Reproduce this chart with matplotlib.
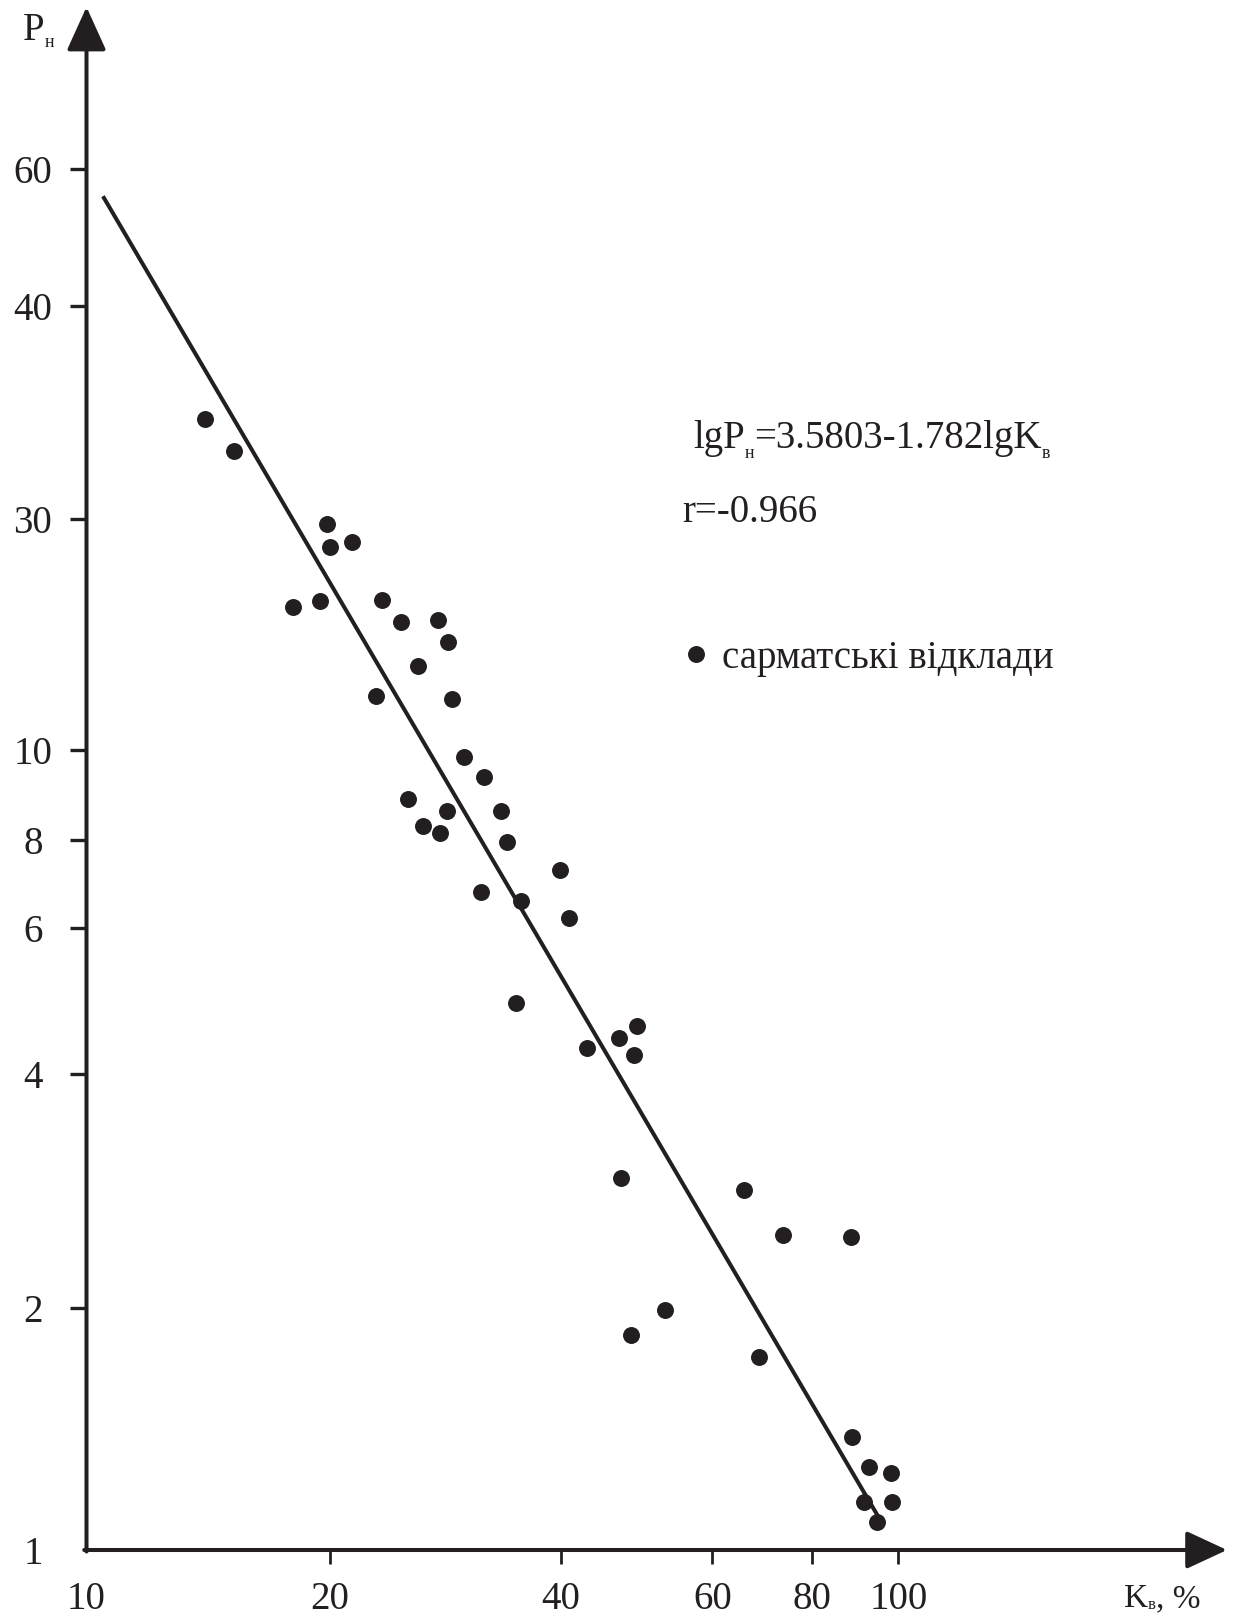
import numpy as np
import matplotlib
matplotlib.use('Agg')
import matplotlib.pyplot as plt

# Kв, % and Pн of the sarmatian samples
k_values = [14.02, 15.23, 19.87, 20.03, 21.37, 18.04, 19.46, 23.39, 24.76, 27.67, 28.51,
            26.10, 22.99, 28.88, 29.96, 31.79, 25.33, 28.48, 33.45, 26.50, 27.86, 34.02,
            31.50, 35.57, 34.98, 39.96, 40.96, 42.92, 46.76, 48.61, 49.02, 47.02, 48.34,
            52.92, 65.72, 68.70, 73.55, 88.50, 88.75, 92.75, 98.05, 91.49, 98.30, 94.70]
p_values = [34.34, 32.89, 29.29, 26.29, 26.93, 19.71, 20.34, 20.41, 18.36, 18.56, 16.72,
            14.91, 12.95, 12.73, 9.82, 9.35, 8.86, 8.61, 8.60, 8.29, 8.14, 7.96,
            6.76, 6.57, 4.87, 7.27, 6.20, 4.30, 4.43, 4.22, 4.58, 2.94, 1.851,
            1.987, 2.834, 1.740, 2.485, 2.470, 1.381, 1.267, 1.248, 1.148, 1.148, 1.084]

# ends of the regression line as drawn
k_line = [10.48, 95.5]
p_line = [55.4, 1.088]

x_ticks = [10, 20, 40, 60, 80, 100]
y_ticks = [1, 2, 4, 6, 8, 10, 30, 40, 60]
legend_label = 'сарматські відклади'

# the axes are hand drawn: log-like but the tick spacing is uneven,
# so the tick positions (image pixels) define the scale
x_tick_px = [86.5, 329.5, 560.6, 712.3, 812.3, 898.3]
y_tick_px = [1550, 1308, 1074.3, 928.3, 840.3, 750, 519, 306, 169.3]

W, H = 1237, 1618
ink = '#231f20'
plt.rcParams['font.family'] = ['Liberation Serif', 'DejaVu Serif']
plt.rcParams['text.color'] = ink


def piecewise(v, xp, fp):
    v = np.asarray(v, dtype=float)
    i = np.clip(np.searchsorted(xp, v) - 1, 0, len(xp) - 2)
    return fp[i] + (v - xp[i]) * (fp[i + 1] - fp[i]) / (xp[i + 1] - xp[i])


def uneven_log(ticks, pos):
    lt = np.log10(ticks)
    pos = np.asarray(pos, dtype=float)

    def fwd(v):
        return piecewise(np.log10(np.clip(v, 1e-6, None)), lt, pos)

    def inv(p):
        return 10 ** piecewise(p, pos, lt)
    return fwd, inv


fig = plt.figure(figsize=(W / 100, H / 100), dpi=100)
x0, x1 = 86.5, 1227   # y axis line, tip of x arrow
y0, y1 = 1550, 7      # x axis line, tip of y arrow
ax = fig.add_axes([x0 / W, 1 - y0 / H, (x1 - x0) / W, (y0 - y1) / H])

fx = uneven_log(x_ticks, x_tick_px)
fy = uneven_log(y_ticks, [-p for p in y_tick_px])
ax.set_xscale('function', functions=fx)
ax.set_yscale('function', functions=fy)
ax.set_xlim(10, fx[1](x1))
ax.set_ylim(1, fy[1](-y1))

for s in ax.spines.values():
    s.set_visible(False)

# axes as arrows
ax.annotate('', xy=(1, 0), xytext=(-0.002, 0), xycoords='axes fraction',
            arrowprops=dict(arrowstyle='-|>,head_length=1.4,head_width=0.65', color=ink,
                            lw=2.9, shrinkA=0, shrinkB=0, mutation_scale=18))
ax.annotate('', xy=(0, 1), xytext=(0, -0.001), xycoords='axes fraction',
            arrowprops=dict(arrowstyle='-|>,head_length=1.5,head_width=0.68', color=ink,
                            lw=2.9, shrinkA=0, shrinkB=0, mutation_scale=18))

ax.set_xticks(x_ticks, [str(t) for t in x_ticks])
ax.set_yticks(y_ticks, [str(t) for t in y_ticks])
ax.minorticks_off()
ax.tick_params(axis='x', direction='out', length=9.9, width=2, pad=12.7,
               labelsize=28, color=ink, labelcolor=ink)
ax.tick_params(axis='y', direction='out', length=12.2, width=2.4, pad=26.4,
               labelsize=28, color=ink, labelcolor=ink)
for lab in ax.get_yticklabels():
    lab.set_ha('center')
ax.xaxis.get_major_ticks()[0].tick1line.set_visible(False)
ax.yaxis.get_major_ticks()[0].tick1line.set_visible(False)

ax.plot(k_line, p_line, color=ink, lw=2.9, solid_capstyle='butt', zorder=2, clip_on=False)
ax.plot(k_values, p_values, 'o', color=ink, ms=12.2, mew=0, zorder=3, label=legend_label,
        clip_on=False)

ax.legend(loc='lower left', bbox_to_anchor=(680 / W, 1 - 677 / H), bbox_transform=fig.transFigure,
          frameon=False, fontsize=28, handlelength=0.8, handletextpad=0.29,
          borderpad=0, borderaxespad=0, markerscale=1)


def chain(x, y, parts):
    # pieces of text set one after another, subscripts dropped below the baseline
    prev = None
    for s, size, drop in parts:
        if prev is None:
            prev = fig.text(x / W, 1 - (y + drop) / H, s, fontsize=size, va='baseline')
        else:
            prev = ax.annotate(s, xy=(1, H - y - drop), xycoords=(prev, 'figure pixels'),
                               fontsize=size, va='baseline', annotation_clip=False)


chain(693, 448, [('lgP', 28, 0), ('н', 13, 10), ('=3.5803-1.782lgK', 28, 0), ('в', 13, 10)])
chain(682, 522, [('r=-0.966', 28, 0)])
chain(23, 40, [('P', 28, 0), ('н', 13, 7)])
chain(1124, 1607, [('K', 24, 0), ('в', 12, 2), (', %', 24, 0)])

fig.savefig('out.png', dpi=100, facecolor='white')
